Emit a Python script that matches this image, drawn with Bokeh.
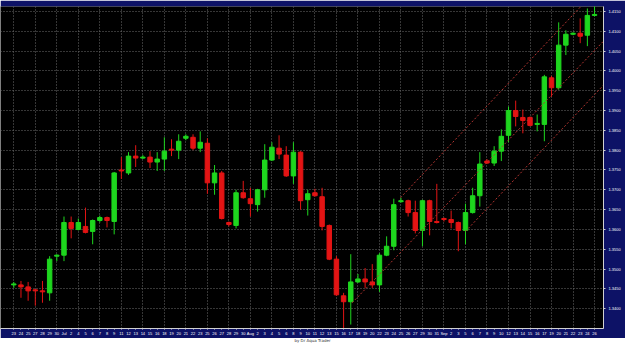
from bokeh.plotting import figure
from bokeh.models import Range1d, FixedTicker, Label, Div, ColumnDataSource, PrintfTickFormatter
from bokeh.layouts import column
from bokeh.embed import file_html
from bokeh.resources import INLINE

symbol_title = "EURUSD,D1"
caption = "by Dr Aqua Trader"

dates = ["23", "24", "25", "27", "28", "29", "30",
         "Jul", "2", "4", "5", "6", "7", "8", "9", "11", "12", "13", "14", "15", "16",
         "18", "19", "20", "21", "22", "23", "25", "26", "27", "28", "29", "30",
         "Aug", "2", "3", "4", "5", "6", "8", "9", "10", "11", "12", "13", "15", "16",
         "17", "18", "19", "20", "22", "23", "24", "25", "26", "27", "29", "30", "31",
         "Sep", "2", "3", "5", "6", "7", "8", "9", "10", "12", "13", "14", "15", "16",
         "17", "19", "20", "21", "22", "23", "24", "26"]

open_ = [1.34600, 1.34600, 1.34550, 1.34475, 1.34450, 1.34400, 1.35325, 1.35350, 1.36175, 1.36000,
         1.36075, 1.35950, 1.36225, 1.36300, 1.36200, 1.37500, 1.37425, 1.37850, 1.37800, 1.37825,
         1.37700, 1.37775, 1.38025, 1.38000, 1.38300, 1.38325, 1.38050, 1.38175, 1.37175, 1.37425,
         1.36175, 1.36100, 1.36925, 1.36775, 1.36625, 1.37000, 1.37750, 1.38050, 1.37875, 1.37350,
         1.37950, 1.36750, 1.36925, 1.36825, 1.36100, 1.35250, 1.34325, 1.34175, 1.34675, 1.34750,
         1.34675, 1.34600, 1.35350, 1.35575, 1.36700, 1.36725, 1.36425, 1.35975, 1.36725, 1.36200,
         1.36275, 1.36250, 1.36175, 1.35975, 1.36425, 1.36850, 1.37725, 1.37675, 1.37975, 1.38375,
         1.39000, 1.38825, 1.38825, 1.38650, 1.38650, 1.39825, 1.39575, 1.40650, 1.40925, 1.40950,
         1.40900, 1.41400]
high = [1.34675, 1.34700, 1.34675, 1.34500, 1.34700, 1.35325, 1.35375, 1.36325, 1.36325, 1.36275,
        1.36550, 1.36250, 1.36350, 1.36325, 1.37450, 1.37825, 1.37950, 1.38125, 1.37875, 1.37975,
        1.37950, 1.38325, 1.38275, 1.38400, 1.38400, 1.38400, 1.38475, 1.38300, 1.37625, 1.37475,
        1.36200, 1.37000, 1.37225, 1.37050, 1.37025, 1.38150, 1.38200, 1.38375, 1.38100, 1.38200,
        1.37975, 1.37000, 1.37025, 1.37050, 1.36125, 1.35325, 1.34400, 1.35375, 1.34875, 1.35025,
        1.35125, 1.35400, 1.35825, 1.36775, 1.36800, 1.36750, 1.36725, 1.36750, 1.36750, 1.37150,
        1.36300, 1.36475, 1.36200, 1.36650, 1.37050, 1.37950, 1.37775, 1.38100, 1.38525, 1.39100,
        1.39250, 1.39025, 1.38850, 1.38900, 1.39900, 1.39875, 1.41225, 1.41025, 1.40975, 1.41325,
        1.41575, 1.41650]
low = [1.34525, 1.34275, 1.34200, 1.34075, 1.34150, 1.34200, 1.35200, 1.35200, 1.35775, 1.35975,
       1.35900, 1.35625, 1.36175, 1.36050, 1.35875, 1.37275, 1.37375, 1.37575, 1.37775, 1.37550,
       1.37475, 1.37475, 1.37850, 1.37775, 1.38250, 1.38000, 1.37950, 1.36900, 1.36875, 1.36250,
       1.36075, 1.36025, 1.36775, 1.36325, 1.36450, 1.36800, 1.37725, 1.37775, 1.37325, 1.37150,
       1.36500, 1.36350, 1.36825, 1.35975, 1.35225, 1.34325, 1.33375, 1.33600, 1.34650, 1.34525,
       1.34525, 1.34425, 1.35325, 1.35475, 1.36675, 1.36325, 1.35900, 1.35575, 1.35850, 1.36150,
       1.36200, 1.36025, 1.35450, 1.35625, 1.36400, 1.36575, 1.37650, 1.37600, 1.37725, 1.38200,
       1.38600, 1.38425, 1.38600, 1.38475, 1.38225, 1.39350, 1.39525, 1.40400, 1.40900, 1.40700,
       1.40625, 1.41375]
close = [1.34625, 1.34550, 1.34450, 1.34450, 1.34425, 1.35250, 1.35350, 1.36175, 1.36025, 1.36175,
         1.35925, 1.36225, 1.36300, 1.36225, 1.37425, 1.37475, 1.37850, 1.37800, 1.37825, 1.37700,
         1.37775, 1.37975, 1.38000, 1.38225, 1.38350, 1.38050, 1.38200, 1.37175, 1.37425, 1.36275,
         1.36125, 1.36925, 1.36800, 1.36650, 1.37000, 1.37750, 1.38075, 1.37900, 1.37350, 1.37950,
         1.36725, 1.36900, 1.36850, 1.36075, 1.35250, 1.34350, 1.34175, 1.34675, 1.34750, 1.34675,
         1.34600, 1.35350, 1.35575, 1.36625, 1.36725, 1.36425, 1.35975, 1.36725, 1.36200, 1.36175,
         1.36250, 1.36175, 1.35975, 1.36425, 1.36850, 1.37650, 1.37675, 1.37975, 1.38350, 1.39000,
         1.38850, 1.38750, 1.38625, 1.38675, 1.39850, 1.39575, 1.40650, 1.40925, 1.40950, 1.40875,
         1.41400, 1.41425]

# channel drawn on the chart (bar index, price)
channel_upper_x = [54.93, 83.25]
channel_upper_y = [1.36800, 1.42230]
channel_mid_x = [48.2, 83.25]
channel_mid_y = [1.34150, 1.40750]
channel_low_x = [64.0, 83.25]
channel_low_y = [1.35950, 1.39640]

price_ticks = [1.3400, 1.3450, 1.3500, 1.3550, 1.3600, 1.3650, 1.3700, 1.3750,
               1.3800, 1.3850, 1.3900, 1.3950, 1.4000, 1.4050, 1.4100, 1.4150]
top_price_label = "1.4163"

NAVY = "#0d1266"
GREEN = "#1ed61e"
RED = "#e31414"

idx = list(range(1, len(open_) + 1))
colors = [GREEN if c >= o else RED for o, c in zip(open_, close)]
tops = [max(o, c) for o, c in zip(open_, close)]
bots = [min(o, c) for o, c in zip(open_, close)]
src = ColumnDataSource(dict(x=idx, o=open_, h=high, l=low, c=close, top=tops, bot=bots, col=colors))

p = figure(width=625, height=338, output_backend="svg", toolbar_location=None,
           x_range=Range1d(-0.855, 83.25), y_range=Range1d(1.33500, 1.41625),
           y_axis_location="right",
           min_border_left=0, min_border_right=22, min_border_top=6, min_border_bottom=7)
p.background_fill_color = "black"
p.border_fill_color = NAVY
p.outline_line_color = None

# grid
p.ygrid.ticker = FixedTicker(ticks=price_ticks)
p.ygrid.grid_line_color = "#6c6c6c"
p.ygrid.grid_line_dash = "1 2"
p.xgrid.ticker = FixedTicker(ticks=[i for i in idx if i % 3 == 1])
p.xgrid.grid_line_color = "#6c6c6c"
p.xgrid.grid_line_dash = "1 2"

# candles
p.segment(x0="x", y0="l", x1="x", y1="h", color="col", line_width=1, source=src)
p.vbar(x="x", width=0.62, top="top", bottom="bot", fill_color="col", line_color="col", source=src)

# channel lines
for xs, ys in ((channel_upper_x, channel_upper_y), (channel_mid_x, channel_mid_y), (channel_low_x, channel_low_y)):
    p.line(xs, ys, line_color="#b03430", line_width=1, line_dash="2 2")

# axes
ya = p.yaxis[0]
ya.ticker = FixedTicker(ticks=price_ticks)
ya.formatter = PrintfTickFormatter(format="%.4f")
ya.major_label_text_font_size = "4px"
ya.major_label_text_color = "white"
ya.major_label_standoff = 3
ya.major_tick_out = 2
ya.major_tick_in = 0
ya.minor_tick_line_color = None
ya.major_tick_line_color = "#d0d0d0"
ya.axis_line_color = "#d0d0d0"

xa = p.xaxis[0]
xa.ticker = FixedTicker(ticks=idx)
xa.major_label_overrides = {i: d for i, d in zip(idx, dates)}
xa.major_label_text_font_size = "4px"
xa.major_label_text_color = "white"
xa.major_label_standoff = 1
xa.major_tick_out = 1
xa.major_tick_in = 0
xa.minor_tick_line_color = None
xa.major_tick_line_color = "#d0d0d0"
xa.axis_line_color = "#d0d0d0"

# title and price labels
p.add_layout(Label(x=-0.855, y=1.41625, x_offset=2, y_offset=1, text=symbol_title,
                   text_font_size="4px", text_color="#d8d8d8", text_font="DejaVu Sans"))
p.add_layout(Label(x=83.25, y=close[-1], x_offset=2, text="%.4f" % close[-1],
                   text_font_size="4px", text_color="black", text_baseline="middle",
                   background_fill_color="#dcdc9a", text_font="DejaVu Sans"))
p.add_layout(Label(x=83.25, y=1.41625, x_offset=3, y_offset=1, text=top_price_label,
                   text_font_size="4px", text_color="white", text_font="DejaVu Sans"))

cap = Div(text=caption, width=625, height=6,
          styles={"background": "white", "font-size": "4px", "text-align": "center",
                  "line-height": "5px", "overflow": "hidden", "color": "#333",
                  "font-family": "DejaVu Sans", "padding": "0", "margin": "0"})

layout = column(p, cap, spacing=0)
open("out.html", "w").write(file_html(layout, INLINE))
